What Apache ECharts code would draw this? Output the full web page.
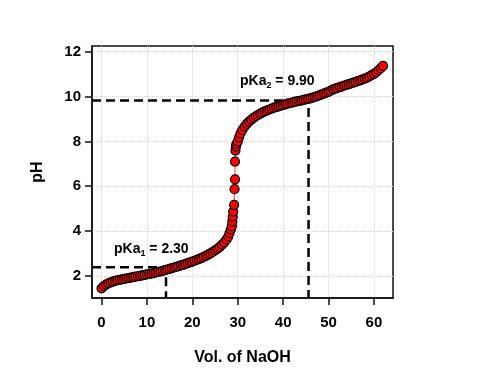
<!DOCTYPE html>
<html>
<head>
<meta charset="utf-8">
<script src="https://cdn.jsdelivr.net/npm/echarts@6/dist/echarts.min.js"></script>
<style>html,body{margin:0;padding:0;background:#fff}#c{width:481px;height:378px}</style>
</head>
<body>
<div id="c"></div>
<script>
// Titration data
var vol = [0,0.5,1,1.5,2,2.5,3,3.5,4,4.5,5,5.5,6,6.5,7,7.5,8,8.5,9,9.5,10,10.5,11,11.5,12,12.5,13,13.5,
  14,14.5,15,15.5,16,16.5,17,17.5,18,18.5,19,19.5,20,20.5,21,21.5,22,22.5,23,23.5,24,24.5,25,25.5,26,26.5,27,27.5,
  27.9,28.2,28.5,28.7,28.8,28.9,29.0,29.2,29.3,29.4,29.4,29.5,29.6,29.7,30.0,30.3,30.6,31.0,31.5,32,32.5,
  33,33.5,34,34.5,35,35.5,36,36.5,37,37.5,38,38.5,39,39.5,40,40.5,41,41.5,42,42.5,43,43.5,44,44.5,45,45.5,
  46,46.5,47,47.5,48,48.5,49,49.5,50,50.5,51,51.5,52,52.5,53,53.5,54,54.5,55,55.5,56,56.5,57,57.5,58,58.5,
  59,59.5,60,60.5,61,61.5,62];
var ph = [1.45,1.55,1.62,1.67,1.71,1.75,1.78,1.81,1.83,1.85,1.87,1.89,1.91,1.93,1.95,1.97,1.99,2.01,2.03,2.05,2.07,2.09,2.11,2.13,2.16,2.18,2.20,2.23,
  2.26,2.29,2.32,2.35,2.38,2.41,2.44,2.47,2.50,2.54,2.57,2.61,2.64,2.68,2.72,2.76,2.80,2.85,2.90,2.95,3.01,3.07,3.14,3.21,3.29,3.39,3.49,3.62,
  3.75,3.92,4.08,4.22,4.42,4.64,4.87,5.17,5.87,6.31,7.10,7.59,7.77,7.88,7.99,8.18,8.35,8.51,8.66,8.78,8.88,
  8.97,9.05,9.12,9.18,9.24,9.29,9.34,9.38,9.42,9.46,9.50,9.53,9.56,9.59,9.62,9.65,9.68,9.71,9.73,9.76,9.78,9.80,9.82,9.85,9.87,9.89,
  9.92,9.95,9.98,10.01,10.05,10.09,10.13,10.17,10.21,10.26,10.32,10.35,10.38,10.42,10.45,10.49,10.52,10.55,10.58,10.62,10.65,10.69,10.72,10.76,10.80,10.84,
  10.89,10.95,11.01,11.08,11.17,11.26,11.36];

var xTicks = [0,10,20,30,40,50,60];
var yTicks = [2,4,6,8,10,12];
var xRange = [-2.1, 64.2];
var yRange = [1.02, 12.25];

// pKa guide lines: [volume, pH]
var pKa1Point = [14.2, 2.39];
var pKa2Point = [45.6, 9.82];
var pKa1Text = '2.30';
var pKa2Text = '9.90';

var points = vol.map(function(v, i){ return [v, ph[i]]; });

function guide(p){
  return [[xRange[0], p[1]], [p[0], p[1]], [p[0], yRange[0]]];
}

var chart = echarts.init(document.getElementById('c'), null, {renderer:'canvas'});
var axisFont = {fontFamily:'Liberation Sans, Arial, sans-serif', fontWeight:'bold', fontSize:15, color:'#000'};
var dashStyle = {color:'#000', width:2.5, type:[9,5]};

chart.setOption({
  animation:false,
  backgroundColor:'#fff',
  grid:{left:92, top:46, right:88, bottom:80, show:true, borderColor:'#111', borderWidth:1.5, backgroundColor:'transparent'},
  xAxis:{
    type:'value', min:xRange[0], max:xRange[1],
    name:'Vol. of NaOH', nameLocation:'middle', nameGap:52,
    nameTextStyle:{fontFamily:'Liberation Sans, Arial, sans-serif', fontWeight:'bold', fontSize:16, color:'#000'},
    axisLine:{show:true, onZero:false, lineStyle:{color:'#111', width:1.5}},
    axisTick:{show:true, inside:false, length:7, lineStyle:{color:'#111', width:1.5}, customValues:xTicks},
    axisLabel:Object.assign({margin:17, customValues:xTicks}, axisFont),
    splitLine:{show:true, lineStyle:{color:'#d4d4d4', type:'dotted', width:1}}
  },
  yAxis:{
    type:'value', min:yRange[0], max:yRange[1],
    name:'pH', nameLocation:'middle', nameGap:46, nameRotate:90,
    nameTextStyle:{fontFamily:'Liberation Sans, Arial, sans-serif', fontWeight:'bold', fontSize:16, color:'#000'},
    axisLine:{show:true, onZero:false, lineStyle:{color:'#111', width:1.5}},
    axisTick:{show:true, inside:false, length:7, lineStyle:{color:'#111', width:1.5}, customValues:yTicks},
    axisLabel:Object.assign({margin:11, customValues:yTicks}, axisFont),
    splitLine:{show:true, lineStyle:{color:'#d4d4d4', type:'dotted', width:1}}
  },
  series:[
    {type:'line', data:guide(pKa1Point), symbol:'none', lineStyle:dashStyle, z:1, silent:true},
    {type:'line', data:guide(pKa2Point), symbol:'none', lineStyle:dashStyle, z:1, silent:true},
    {type:'line', data:points, symbol:'circle', symbolSize:9, showAllSymbol:true,
     lineStyle:{color:'#ff3030', width:1},
     itemStyle:{color:'#ff0000', borderColor:'#000', borderWidth:1.2}, z:3}
  ],
  graphic:[
    {type:'text', left:114, top:241, z:10, style:{
      text:'{a|pKa}{s|1}{a| = ' + pKa1Text + '}',
      rich:{a:{fontFamily:'Liberation Sans, Arial, sans-serif', fontWeight:'bold', fontSize:14, fill:'#000', lineHeight:16},
            s:{fontFamily:'Liberation Sans, Arial, sans-serif', fontWeight:'bold', fontSize:9, fill:'#000', lineHeight:16, padding:[8,0,0,0]}}
    }},
    {type:'text', left:240, top:73, z:10, style:{
      text:'{a|pKa}{s|2}{a| = ' + pKa2Text + '}',
      rich:{a:{fontFamily:'Liberation Sans, Arial, sans-serif', fontWeight:'bold', fontSize:14, fill:'#000', lineHeight:16},
            s:{fontFamily:'Liberation Sans, Arial, sans-serif', fontWeight:'bold', fontSize:9, fill:'#000', lineHeight:16, padding:[8,0,0,0]}}
    }}
  ]
});
</script>
</body>
</html>
